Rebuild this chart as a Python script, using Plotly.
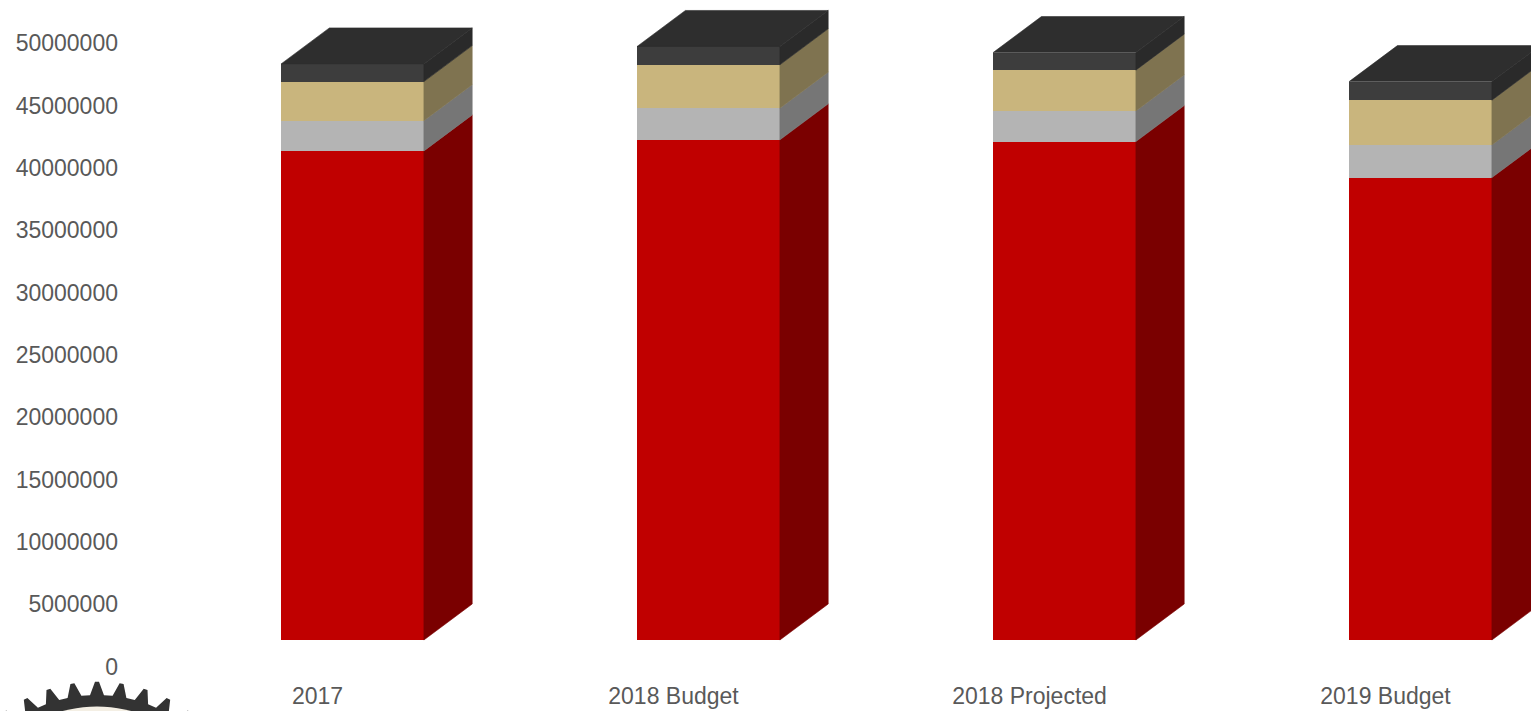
import math
import plotly.graph_objects as go

# ---- data ----
categories = ["2017", "2018 Budget", "2018 Projected", "2019 Budget"]
series_names = ["Series 1", "Series 2", "Series 3", "Series 4"]
series_1 = [39240000, 40130000, 39990000, 37100000]
series_2 = [2430000, 2540000, 2460000, 2620000]
series_3 = [3130000, 3480000, 3270000, 3590000]
series_4 = [1420000, 1470000, 1410000, 1490000]
y_ticks = [0, 5000000, 10000000, 15000000, 20000000, 25000000,
           30000000, 35000000, 40000000, 45000000, 50000000]

# ---- styling: front / side colours for each stacked segment ----
front_colors = ["#C00000", "#B4B4B4", "#C9B57D", "#3D3D3D"]
side_colors = ["#7A0000", "#767676", "#7F7350", "#2A2A2A"]
top_color = "#2E2E2E"
text_color = "#595959"
font_family = "Liberation Sans, Arial, sans-serif"

# ---- canvas geometry ----
W, H = 1531, 711
M_LEFT = 125
PLOT_BOTTOM = 678                 # pixel row of plot-area bottom
CAT_PX = 356.0                    # pixels per category step
CAT0_PX = 317.5                   # pixel column of first category
VAL_PX = 12.464 / 1e6             # pixels per value unit
ZERO_PX = 666.5                   # pixel row of the zero value

x_min = -(CAT0_PX - M_LEFT) / CAT_PX
x_max = x_min + (W - M_LEFT) / CAT_PX
y_max = ZERO_PX / VAL_PX
y_min = -(PLOT_BOTTOM - ZERO_PX) / VAL_PX

# oblique projection offsets (screen pixels -> data units)
def shift(px_dx, px_dy):
    return px_dx / CAT_PX, -px_dy / VAL_PX

front_dx, front_dy = shift(35.0, -26.5)    # bar front plane vs. floor edge
depth_dx, depth_dy = shift(48.3, -36.0)    # bar depth
half_w = 142.8 / CAT_PX / 2

all_series = [series_1, series_2, series_3, series_4]
n_cat = len(categories)

fig = go.Figure()

# stacked bases
bases = []
running = [0.0] * n_cat
for vals in all_series:
    bases.append(list(running))
    running = [r + v for r, v in zip(running, vals)]
totals = running

xs_front = [i + front_dx for i in range(n_cat)]

# front faces as stacked bars
for name, vals, base, col in zip(series_names, all_series, bases, front_colors):
    fig.add_trace(go.Bar(
        x=xs_front, y=vals, base=[b + front_dy for b in base],
        width=2 * half_w, marker=dict(color=col, line=dict(width=0)),
        name=name, showlegend=False, hoverinfo="skip",
    ))

# side faces (right) for each segment
for name, vals, base, col in zip(series_names, all_series, bases, side_colors):
    px, py = [], []
    for i in range(n_cat):
        xr = i + front_dx + half_w
        b = base[i] + front_dy
        t = b + vals[i]
        px += [xr, xr + depth_dx, xr + depth_dx, xr, xr, None]
        py += [b, b + depth_dy, t + depth_dy, t, b, None]
    fig.add_trace(go.Scatter(
        x=px, y=py, mode="lines", fill="toself", fillcolor=col,
        line=dict(color=col, width=0.6), showlegend=False, hoverinfo="skip",
    ))

# top faces
px, py = [], []
for i in range(n_cat):
    xl = i + front_dx - half_w
    xr = i + front_dx + half_w
    t = totals[i] + front_dy
    px += [xl, xr, xr + depth_dx, xl + depth_dx, xl, None]
    py += [t, t, t + depth_dy, t + depth_dy, t, None]
fig.add_trace(go.Scatter(
    x=px, y=py, mode="lines", fill="toself", fillcolor=top_color,
    line=dict(color=top_color, width=0.6), showlegend=False, hoverinfo="skip",
))

# ---- gear emblem in the lower-left corner (pixel geometry -> paper) ----
plot_w = W - M_LEFT
def to_paper(x, y):
    return (x - M_LEFT) / plot_w, (PLOT_BOTTOM - y) / PLOT_BOTTOM

gcx, gcy = 97.0, 839.0
r_tip, r_root, r_inner = 157.3, 144.0, 132.5
n_teeth = 40
pitch = 2 * math.pi / n_teeth
half_base = 7.0 / r_root
half_tip = 2.0 / r_tip
pts = []
for k in range(n_teeth):
    a = -math.pi / 2 + k * pitch
    for ang, r in ((a - half_base, r_root), (a - half_tip, r_tip),
                   (a + half_tip, r_tip), (a + half_base, r_root)):
        pts.append(to_paper(gcx + r * math.cos(ang), gcy + r * math.sin(ang)))
gear_path = "M " + " L ".join(f"{u:.5f},{v:.5f}" for u, v in pts) + " Z"

inner = []
for k in range(120):
    ang = 2 * math.pi * k / 120
    inner.append(to_paper(gcx + r_inner * math.cos(ang), gcy + r_inner * math.sin(ang)))
inner_path = "M " + " L ".join(f"{u:.5f},{v:.5f}" for u, v in inner) + " Z"

shapes = [
    dict(type="path", xref="paper", yref="paper", path=gear_path,
         fillcolor="#333333", line=dict(width=0), layer="above"),
    dict(type="path", xref="paper", yref="paper", path=inner_path,
         fillcolor="#F4EFE4", line=dict(width=0), layer="above"),
]

fig.update_layout(
    width=W, height=H, autosize=False,
    margin=dict(l=M_LEFT, r=0, t=0, b=H - PLOT_BOTTOM, pad=0),
    paper_bgcolor="white", plot_bgcolor="white",
    barmode="overlay", bargap=0,
    font=dict(family=font_family, size=23, color=text_color),
    shapes=shapes,
    xaxis=dict(
        range=[x_min, x_max], tickmode="array",
        tickvals=list(range(n_cat)), ticktext=categories,
        showgrid=False, zeroline=False, showline=False, ticks="",
        ticklabelstandoff=2,
        tickfont=dict(family=font_family, size=23, color=text_color),
        fixedrange=True,
    ),
    yaxis=dict(
        range=[y_min, y_max], tickmode="array", tickvals=y_ticks,
        tickformat="d", showgrid=False, zeroline=False, showline=False,
        ticks="", ticklabelstandoff=6,
        tickfont=dict(family=font_family, size=23, color=text_color),
        fixedrange=True,
    ),
)

fig.write_html("out.html")
